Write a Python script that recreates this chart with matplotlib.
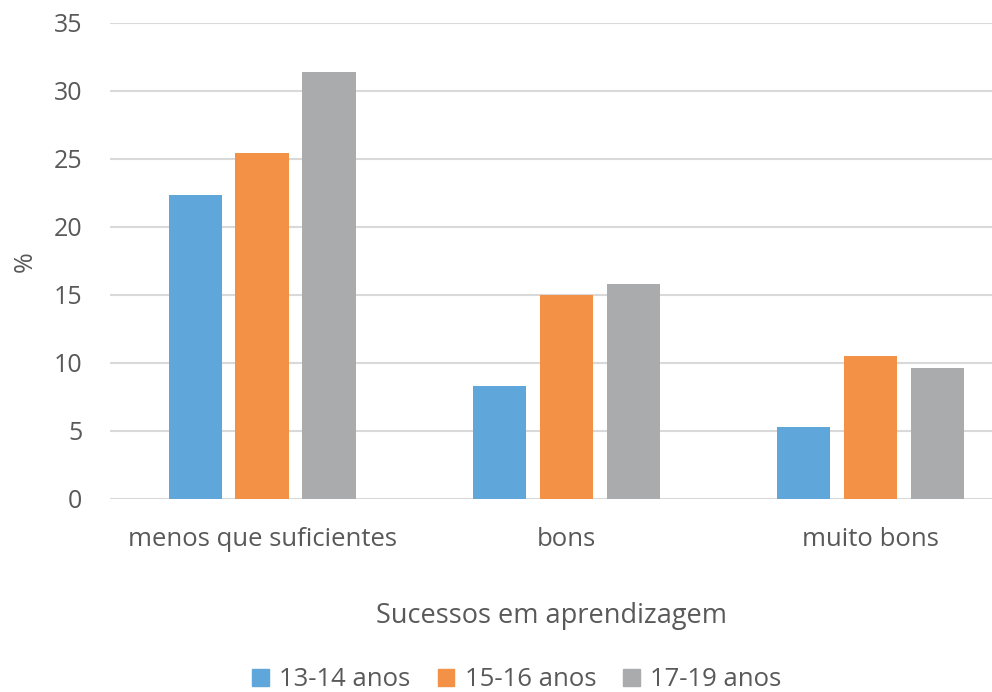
import numpy as np
import matplotlib
matplotlib.use("Agg")
import matplotlib.pyplot as plt
from matplotlib.patches import Patch

# --- data -------------------------------------------------------------------
categories = ["menos que suficientes", "bons", "muito bons"]
age_groups = ["13-14 anos", "15-16 anos", "17-19 anos"]
vals_13_14 = [22.3, 8.3, 5.3]
vals_15_16 = [25.4, 15.0, 10.5]
vals_17_19 = [31.4, 15.8, 9.6]
y_ticks = [0, 5, 10, 15, 20, 25, 30, 35]

colors = ["#5FA7DA", "#F39146", "#A9ABAC"]
txt_col = "#595959"

plt.rcParams['font.family'] = ['Open Sans', 'DejaVu Sans']

fig = plt.figure(figsize=(9.92, 6.92), dpi=100)
ax = fig.add_axes([110/992, 1 - 499/692, 1 - 110/992, (499 - 22.5)/692])

x = np.arange(len(categories))
w = 0.175
step = 0.22
for i, (vals, c) in enumerate(zip([vals_13_14, vals_15_16, vals_17_19], colors)):
    ax.bar(x + (i - 1)*step, vals, width=w, color=c, zorder=3)

ax.set_xlim(-0.5, 2.4)
ax.set_ylim(0, 35)
ax.set_yticks(y_ticks)
ax.set_xticks(x)
ax.set_xticklabels(categories)
ax.yaxis.grid(True, color="#D9D9D9", linewidth=1.5, zorder=0)
ax.set_axisbelow(True)
for s in ax.spines.values():
    s.set_visible(False)
ax.tick_params(axis="y", length=0, labelsize=18, colors=txt_col, pad=20)
ax.tick_params(axis="x", length=0, labelsize=18.5, colors=txt_col, pad=20)

fig.text(25/992, 1 - 262/692, "%", rotation=90, fontsize=18, color=txt_col,
         ha="center", va="center")
ax.set_xlabel("Sucessos em aprendizagem", fontsize=19.5, color=txt_col, labelpad=36)

handles = [Patch(color=c) for c in colors]
fig.legend(handles, age_groups, loc="center", bbox_to_anchor=(0.521, 1 - 680/692),
           ncol=3, frameon=False, fontsize=18.5, labelcolor=txt_col,
           handlelength=0.65, handleheight=0.65, handletextpad=0.4, columnspacing=1.05)

fig.savefig("out.png", dpi=100, facecolor="white")
